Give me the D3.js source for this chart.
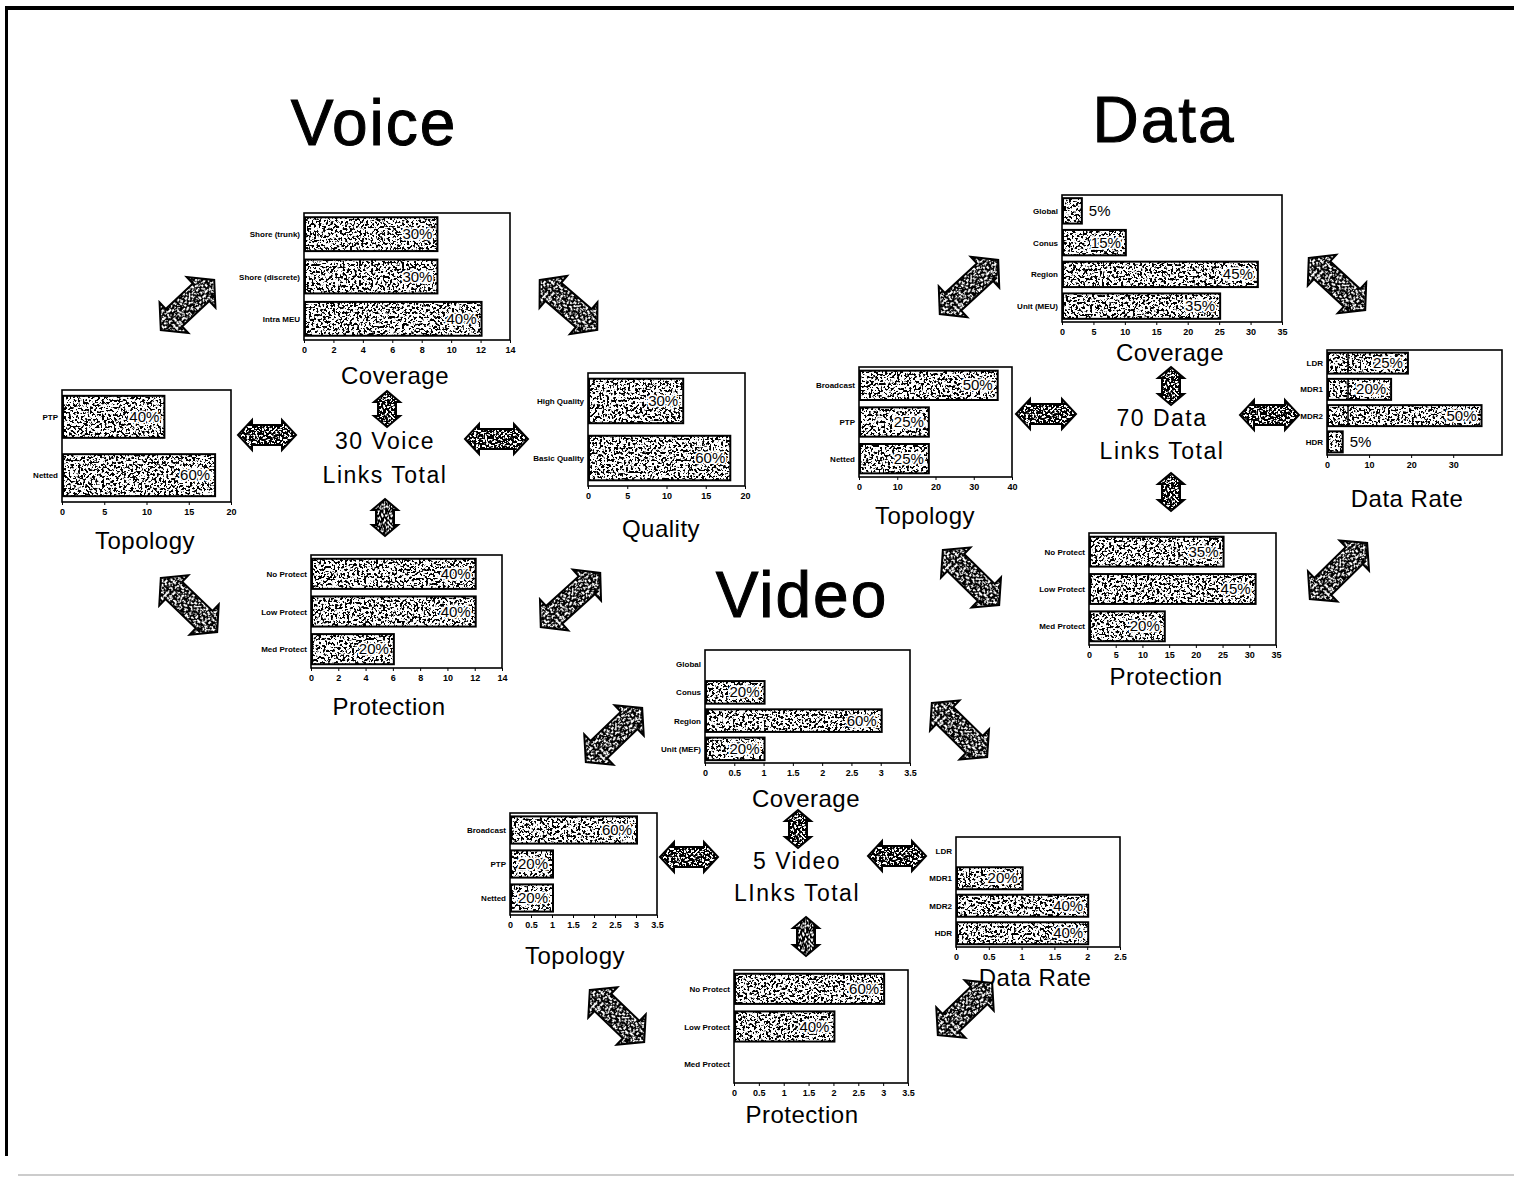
<!DOCTYPE html>
<html>
<head>
<meta charset="utf-8">
<script src="https://cdn.jsdelivr.net/npm/d3@7"></script>
<style>
  body { margin:0; background:#fff; }
  svg text { font-family: "Liberation Sans", Arial, sans-serif; }
  .tick text { font-weight:bold; font-size:9px; }
  .cat { font-weight:bold; font-size:8px; }
</style>
</head>
<body>
<script>
// --- data ---
var voiceCoverageCats = ["Shore (trunk)", "Shore (discrete)", "Intra MEU"];
var voiceCoverageVals = [9, 9, 12];
var voiceCoveragePct  = ["30%", "30%", "40%"];
var voiceCoverageTicks = [0, 2, 4, 6, 8, 10, 12, 14];

var voiceTopologyCats = ["PTP", "Netted"];
var voiceTopologyVals = [12, 18];
var voiceTopologyPct  = ["40%", "60%"];
var voiceTopologyTicks = [0, 5, 10, 15, 20];

var voiceQualityCats = ["High Quality", "Basic Quality"];
var voiceQualityVals = [12, 18];
var voiceQualityPct  = ["30%", "60%"];
var voiceQualityTicks = [0, 5, 10, 15, 20];

var voiceProtectCats = ["No Protect", "Low Protect", "Med Protect"];
var voiceProtectVals = [12, 12, 6];
var voiceProtectPct  = ["40%", "40%", "20%"];
var voiceProtectTicks = [0, 2, 4, 6, 8, 10, 12, 14];

var dataCoverageCats = ["Global", "Conus", "Region", "Unit (MEU)"];
var dataCoverageVals = [3, 10, 31, 25];
var dataCoveragePct  = ["5%", "15%", "45%", "35%"];
var dataCoverageTicks = [0, 5, 10, 15, 20, 25, 30, 35];

var dataTopologyCats = ["Broadcast", "PTP", "Netted"];
var dataTopologyVals = [36, 18, 18];
var dataTopologyPct  = ["50%", "25%", "25%"];
var dataTopologyTicks = [0, 10, 20, 30, 40];

var dataRateCats  = ["LDR", "MDR1", "MDR2", "HDR"];
var dataRateVals  = [19, 15, 36.5, 3.5];
var dataRateSplit = [5, 5, 5, 3.5];
var dataRatePct   = ["25%", "20%", "50%", "5%"];
var dataRateTicks = [0, 10, 20, 30];

var dataProtectCats = ["No Protect", "Low Protect", "Med Protect"];
var dataProtectVals = [25, 31, 14];
var dataProtectPct  = ["35%", "45%", "20%"];
var dataProtectTicks = [0, 5, 10, 15, 20, 25, 30, 35];

var videoCoverageCats = ["Global", "Conus", "Region", "Unit (MEF)"];
var videoCoverageVals = [0, 1, 3, 1];
var videoCoveragePct  = ["", "20%", "60%", "20%"];
var videoCoverageTicks = [0, 0.5, 1, 1.5, 2, 2.5, 3, 3.5];

var videoTopologyCats = ["Broadcast", "PTP", "Netted"];
var videoTopologyVals = [3, 1, 1];
var videoTopologyPct  = ["60%", "20%", "20%"];
var videoTopologyTicks = [0, 0.5, 1, 1.5, 2, 2.5, 3, 3.5];

var videoRateCats = ["LDR", "MDR1", "MDR2", "HDR"];
var videoRateVals = [0, 1, 2, 2];
var videoRatePct  = ["", "20%", "40%", "40%"];
var videoRateTicks = [0, 0.5, 1, 1.5, 2, 2.5];

var videoProtectCats = ["No Protect", "Low Protect", "Med Protect"];
var videoProtectVals = [3, 2, 0];
var videoProtectPct  = ["60%", "40%", ""];
var videoProtectTicks = [0, 0.5, 1, 1.5, 2, 2.5, 3, 3.5];

var W = 1514, H = 1177;
var svg = d3.select("body").append("svg").attr("width", W).attr("height", H);

// speckle textures (scan look)
var defs = svg.append("defs");
function speckle(id, freq, seed, gain, off) {
    var f = defs.append("filter").attr("id", id)
        .attr("x", 0).attr("y", 0).attr("width", 1).attr("height", 1)
        .attr("color-interpolation-filters", "sRGB");
    f.append("feTurbulence").attr("type", "fractalNoise")
        .attr("baseFrequency", freq).attr("numOctaves", 2).attr("seed", seed).attr("result", "n");
    f.append("feColorMatrix").attr("in", "n").attr("type", "matrix")
        .attr("values", "0 0 0 0 0  0 0 0 0 0  0 0 0 0 0  " + gain + " 0 0 0 " + off)
        .attr("result", "dots");
    f.append("feComposite").attr("in", "dots").attr("in2", "SourceAlpha")
        .attr("operator", "in").attr("result", "clip");
    var m = f.append("feMerge");
    m.append("feMergeNode").attr("in", "SourceGraphic");
    m.append("feMergeNode").attr("in", "clip");
}
speckle("barTex", 0.42, 5, 16, -8.25);
speckle("arrowTex", 0.45, 11, 16, -6.9);

// page border from the scan
svg.append("rect").attr("x", 5).attr("y", 6).attr("width", W - 5).attr("height", 4).attr("fill", "#000");
svg.append("rect").attr("x", 5).attr("y", 6).attr("width", 3).attr("height", 1150).attr("fill", "#000");
svg.append("line").attr("x1", 18).attr("x2", W).attr("y1", 1175).attr("y2", 1175)
    .attr("stroke", "#999").attr("stroke-width", 1);

function drawChart(c) {
    var x = d3.scaleLinear().domain([0, c.max]).range([c.x0, c.x1]);
    var y = d3.scaleBand().domain(c.cats).range([c.y0, c.y1])
        .paddingInner(c.pad || 0.2).paddingOuter(0.1);
    var rows = c.cats.map(function(d, i) {
        return {cat: d, v: c.vals[i], pct: c.pct[i], split: c.split ? c.split[i] : null};
    });
    var g = svg.append("g");

    g.append("rect")
        .attr("x", c.x0).attr("y", c.y0)
        .attr("width", c.x1 - c.x0).attr("height", c.y1 - c.y0)
        .attr("fill", "none").attr("stroke", "#000").attr("stroke-width", 1.6);

    var bars = rows.filter(function(d) { return d.v > 0; });
    g.append("g").attr("filter", "url(#barTex)")
        .selectAll("rect").data(bars).enter().append("rect")
        .attr("x", x(0) + 1).attr("y", function(d) { return y(d.cat); })
        .attr("width", function(d) { return x(d.v) - x(0); })
        .attr("height", y.bandwidth())
        .attr("fill", "#fff");
    g.append("g").selectAll("rect").data(bars).enter().append("rect")
        .attr("x", x(0) + 1).attr("y", function(d) { return y(d.cat); })
        .attr("width", function(d) { return x(d.v) - x(0); })
        .attr("height", y.bandwidth())
        .attr("fill", "none").attr("stroke", "#000").attr("stroke-width", 2);
    // inner divider where the scan shows a split bar
    g.append("g").selectAll("line")
        .data(bars.filter(function(d) { return d.split !== null && d.split < d.v; }))
        .enter().append("line")
        .attr("x1", function(d) { return x(d.split); }).attr("x2", function(d) { return x(d.split); })
        .attr("y1", function(d) { return y(d.cat); })
        .attr("y2", function(d) { return y(d.cat) + y.bandwidth(); })
        .attr("stroke", "#000").attr("stroke-width", 1.5);

    g.append("g").selectAll("text").data(bars).enter().append("text")
        .attr("x", function(d) {
            return (x(d.v) - x(0) > 34) ? x(d.v) - 4 : x(d.v) + 8;
        })
        .attr("y", function(d) { return y(d.cat) + y.bandwidth() / 2 + 5; })
        .attr("text-anchor", function(d) { return (x(d.v) - x(0) > 34) ? "end" : "start"; })
        .attr("font-size", "15px")
        .attr("stroke", "#fff").attr("stroke-width", 3.5).attr("stroke-linejoin", "round")
        .attr("paint-order", "stroke")
        .attr("fill", "#000")
        .text(function(d) { return d.pct; });

    g.append("g").selectAll("text").data(rows).enter().append("text")
        .attr("class", "cat")
        .attr("x", c.x0 - 4)
        .attr("y", function(d) { return y(d.cat) + y.bandwidth() / 2 + 3; })
        .attr("text-anchor", "end")
        .text(function(d) { return d.cat; });

    var ax = g.append("g").attr("transform", "translate(0," + c.y1 + ")")
        .call(d3.axisBottom(x).tickValues(c.ticks).tickSize(3).tickPadding(4)
              .tickFormat(d3.format("~g")));
    ax.select(".domain").remove();

    g.append("text")
        .attr("x", c.capX).attr("y", c.capY)
        .attr("text-anchor", "middle").attr("font-size", "24px")
        .attr("letter-spacing", "0.5px")
        .text(c.caption);
}

// Voice
drawChart({cats: voiceCoverageCats, vals: voiceCoverageVals, pct: voiceCoveragePct, ticks: voiceCoverageTicks,
    max: 14, x0: 304, x1: 510, y0: 213, y1: 340, caption: "Coverage", capX: 395, capY: 384});
drawChart({cats: voiceTopologyCats, vals: voiceTopologyVals, pct: voiceTopologyPct, ticks: voiceTopologyTicks,
    max: 20, x0: 62, x1: 231, y0: 390, y1: 502, pad: 0.28, caption: "Topology", capX: 145, capY: 549});
drawChart({cats: voiceQualityCats, vals: voiceQualityVals, pct: voiceQualityPct, ticks: voiceQualityTicks,
    max: 20, x0: 588, x1: 745, y0: 373, y1: 486, pad: 0.22, caption: "Quality", capX: 661, capY: 537});
drawChart({cats: voiceProtectCats, vals: voiceProtectVals, pct: voiceProtectPct, ticks: voiceProtectTicks,
    max: 14, x0: 311, x1: 502, y0: 555, y1: 668, caption: "Protection", capX: 389, capY: 715});

// Data
drawChart({cats: dataCoverageCats, vals: dataCoverageVals, pct: dataCoveragePct, ticks: dataCoverageTicks,
    max: 35, x0: 1062, x1: 1282, y0: 195, y1: 322, caption: "Coverage", capX: 1170, capY: 361});
drawChart({cats: dataTopologyCats, vals: dataTopologyVals, pct: dataTopologyPct, ticks: dataTopologyTicks,
    max: 40, x0: 859, x1: 1012, y0: 367, y1: 477, caption: "Topology", capX: 925, capY: 524});
drawChart({cats: dataRateCats, vals: dataRateVals, pct: dataRatePct, ticks: dataRateTicks, split: dataRateSplit,
    max: 41.6, x0: 1327, x1: 1502, y0: 350, y1: 455, caption: "Data Rate", capX: 1407, capY: 507});
drawChart({cats: dataProtectCats, vals: dataProtectVals, pct: dataProtectPct, ticks: dataProtectTicks,
    max: 35, x0: 1089, x1: 1276, y0: 533, y1: 645, caption: "Protection", capX: 1166, capY: 685});

// Video
drawChart({cats: videoCoverageCats, vals: videoCoverageVals, pct: videoCoveragePct, ticks: videoCoverageTicks,
    max: 3.5, x0: 705, x1: 910, y0: 650, y1: 763, caption: "Coverage", capX: 806, capY: 807});
drawChart({cats: videoTopologyCats, vals: videoTopologyVals, pct: videoTopologyPct, ticks: videoTopologyTicks,
    max: 3.5, x0: 510, x1: 657, y0: 813, y1: 915, caption: "Topology", capX: 575, capY: 964});
drawChart({cats: videoRateCats, vals: videoRateVals, pct: videoRatePct, ticks: videoRateTicks,
    max: 2.5, x0: 956, x1: 1120, y0: 837, y1: 947, caption: "Data Rate", capX: 1035, capY: 986});
drawChart({cats: videoProtectCats, vals: videoProtectVals, pct: videoProtectPct, ticks: videoProtectTicks,
    max: 3.5, x0: 734, x1: 908, y0: 970, y1: 1083, caption: "Protection", capX: 802, capY: 1123});

// titles
var titles = [["Voice", 374, 145], ["Data", 1164, 142], ["Video", 802, 617]];
svg.selectAll(".title").data(titles).enter().append("text")
    .attr("class", "title")
    .attr("x", function(d) { return d[1]; }).attr("y", function(d) { return d[2]; })
    .attr("text-anchor", "middle").attr("font-size", "64px").attr("letter-spacing", "2px")
    .attr("stroke", "#000").attr("stroke-width", 1)
    .text(function(d) { return d[0]; });

// centre totals
var totals = [["30 Voice", 385, 449], ["Links Total", 385, 483],
              ["70 Data", 1162, 426], ["Links Total", 1162, 459],
              ["5 Video", 797, 869], ["LInks Total", 797, 901]];
svg.selectAll(".total").data(totals).enter().append("text")
    .attr("class", "total")
    .attr("x", function(d) { return d[1]; }).attr("y", function(d) { return d[2]; })
    .attr("text-anchor", "middle").attr("font-size", "23px").attr("letter-spacing", "1.5px")
    .text(function(d) { return d[0]; });

// double-headed connector arrows
var arrows = [
    [163,328,212,282],[542,282,595,328],[238,435,296,435],[465,439,528,439],
    [387,391,387,427],[385,499,385,536],[163,580,215,630],[543,625,598,575],
    [942,312,996,262],[1311,260,1363,308],[1016,414,1076,414],[1240,415,1299,415],
    [1171,367,1171,405],[1171,473,1171,511],[945,552,997,603],[1312,597,1365,545],
    [588,760,640,710],[934,705,985,755],[798,810,798,848],[660,857,718,857],
    [868,856,926,856],[806,917,806,956],[592,992,642,1040],[940,1033,990,985]
];
function arrowPath(d) {
    var dx = d[2] - d[0], dy = d[3] - d[1];
    var diag = dx !== 0 && dy !== 0, vert = dx === 0;
    var L = Math.sqrt(dx * dx + dy * dy) + (diag ? 6 : 0);
    var hl = diag ? 18 : (vert ? 11 : 14);
    var hw = diag ? 21 : (vert ? 13 : 15);
    var sw = diag ? 12 : (vert ? 9 : 10);
    var a = L / 2;
    var p = [[-a,0],[-a+hl,-hw],[-a+hl,-sw],[a-hl,-sw],[a-hl,-hw],[a,0],
             [a-hl,hw],[a-hl,sw],[-a+hl,sw],[-a+hl,hw]];
    return "M" + p.map(function(q) { return q.join(","); }).join("L") + "Z";
}
var ag = svg.append("g");
var arrowG = ag.selectAll("g").data(arrows).enter().append("g")
    .attr("transform", function(d) {
        var cx = (d[0] + d[2]) / 2, cy = (d[1] + d[3]) / 2;
        var ang = Math.atan2(d[3] - d[1], d[2] - d[0]) * 180 / Math.PI;
        return "translate(" + cx + "," + cy + ") rotate(" + ang + ")";
    });
arrowG.append("path").attr("d", arrowPath).attr("fill", "#fff").attr("filter", "url(#arrowTex)");
arrowG.append("path").attr("d", arrowPath).attr("fill", "none")
    .attr("stroke", "#000").attr("stroke-width", 2).attr("stroke-linejoin", "miter");
</script>
</body>
</html>
